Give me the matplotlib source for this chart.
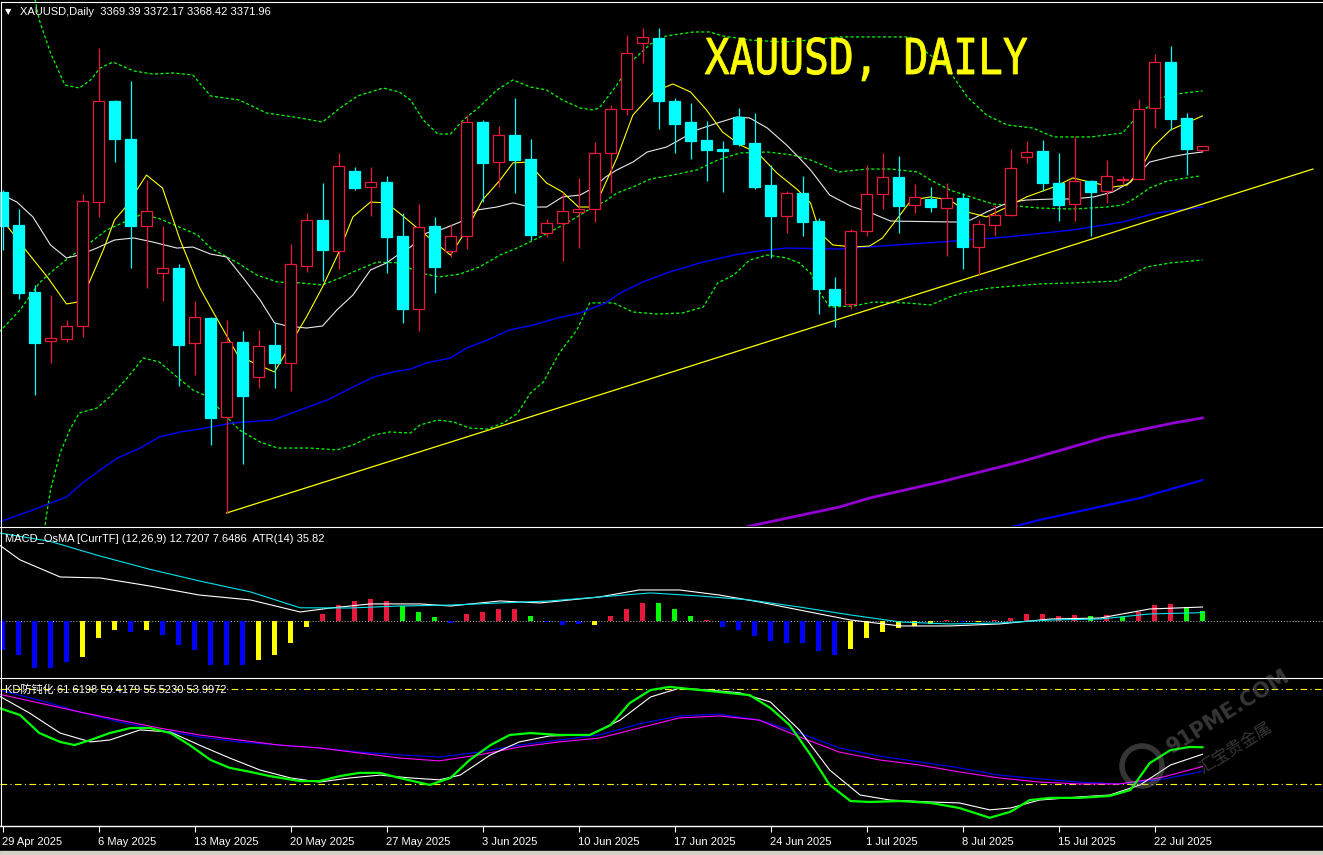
import numpy as np
import matplotlib.pyplot as plt
from matplotlib.patches import Rectangle, PathPatch, Circle
from matplotlib.lines import Line2D
from matplotlib.textpath import TextPath
from matplotlib.font_manager import FontProperties
from matplotlib.transforms import Affine2D, IdentityTransform

W, H, DPI = 1323, 855, 100

# ---- XAUUSD daily bars, 29 Apr 2025 -> 24 Jul 2025
opens = [3340.5, 3317.9, 3272.0, 3238.4, 3239.8, 3248.7, 3333.6, 3402.8, 3376.8, 3317.2,
         3285.0, 3288.4, 3237.1, 3254.2, 3186.4, 3237.7, 3213.8, 3235.7, 3223.4, 3289.8,
         3321.3, 3300.1, 3354.9, 3343.9, 3347.3, 3310.3, 3260.3, 3317.2, 3300.1, 3310.3,
         3388.4, 3361.0, 3379.5, 3363.1, 3312.4, 3319.3, 3326.8, 3328.8, 3367.2, 3397.3,
         3442.6, 3446.0, 3402.8, 3388.4, 3376.1, 3369.9, 3391.9, 3374.1, 3345.3, 3324.0,
         3339.8, 3320.6, 3274.0, 3263.8, 3313.8, 3339.1, 3350.8, 3331.6, 3335.7, 3329.5,
         3336.4, 3302.8, 3317.9, 3324.7, 3364.5, 3368.6, 3346.7, 3332.3, 3348.0, 3341.2,
         3348.7, 3349.4, 3398.0, 3429.5, 3391.2, 3369.39]
highs = [3341.9, 3328.8, 3276.8, 3269.9, 3252.8, 3339.1, 3439.1, 3403.5, 3416.5, 3348.7,
         3317.2, 3291.2, 3265.8, 3254.9, 3252.8, 3245.3, 3246.0, 3250.8, 3304.9, 3326.1,
         3346.7, 3367.2, 3357.6, 3357.6, 3351.4, 3326.1, 3332.3, 3323.4, 3317.9, 3393.2,
         3389.8, 3385.7, 3404.9, 3376.8, 3322.0, 3339.8, 3350.1, 3374.7, 3400.1, 3448.0,
         3452.8, 3452.8, 3404.9, 3401.5, 3389.1, 3375.4, 3398.0, 3394.6, 3359.0, 3341.2,
         3351.4, 3322.7, 3282.3, 3315.1, 3359.0, 3367.2, 3365.1, 3346.0, 3343.9, 3346.7,
         3339.8, 3321.3, 3331.6, 3369.9, 3375.4, 3376.1, 3367.2, 3378.9, 3348.5, 3362.4,
         3351.4, 3404.2, 3435.0, 3440.5, 3394.6, 3372.17]
lows = [3300.8, 3267.2, 3201.4, 3223.4, 3237.7, 3241.2, 3323.4, 3361.0, 3288.4, 3274.7,
        3265.8, 3207.6, 3215.1, 3167.2, 3120.6, 3154.2, 3206.2, 3206.2, 3204.2, 3285.7,
        3279.5, 3287.7, 3341.9, 3324.0, 3285.0, 3250.8, 3245.3, 3271.3, 3296.0, 3301.4,
        3333.6, 3343.9, 3339.8, 3307.6, 3309.7, 3293.2, 3302.1, 3319.9, 3339.8, 3393.2,
        3428.9, 3383.6, 3367.2, 3363.1, 3348.0, 3340.5, 3372.0, 3342.5, 3295.3, 3312.4,
        3310.3, 3256.9, 3248.0, 3260.3, 3310.3, 3328.8, 3312.4, 3326.1, 3326.8, 3296.6,
        3287.7, 3283.6, 3310.3, 3324.0, 3360.4, 3341.2, 3320.6, 3320.6, 3310.3, 3333.0,
        3345.3, 3348.7, 3384.3, 3383.0, 3352.1, 3368.42]
closes = [3317.2, 3271.3, 3237.1, 3240.5, 3248.7, 3334.3, 3402.8, 3376.8, 3317.2, 3327.5,
          3288.4, 3235.7, 3254.9, 3185.7, 3237.7, 3200.7, 3235.0, 3223.4, 3291.2, 3321.3,
          3300.8, 3358.3, 3343.2, 3347.3, 3309.7, 3260.3, 3316.5, 3289.1, 3310.3, 3388.4,
          3360.4, 3379.5, 3362.4, 3311.0, 3319.3, 3327.5, 3328.8, 3367.2, 3397.3, 3435.7,
          3446.7, 3402.8, 3387.1, 3375.4, 3369.3, 3368.6, 3373.4, 3343.9, 3324.0, 3339.8,
          3319.9, 3274.0, 3263.1, 3313.8, 3339.1, 3350.8, 3330.9, 3337.1, 3330.2, 3336.4,
          3302.8, 3318.6, 3324.7, 3356.9, 3367.9, 3346.7, 3331.6, 3348.0, 3340.5, 3351.4,
          3349.4, 3397.3, 3429.5, 3390.5, 3369.9, 3371.96]

# ---- overlay lines (bar position, price)
yellow_idx = [0, 1.3, 2.8, 4.0, 4.7, 5.3, 6.3, 7.0, 7.7, 9.0, 10.0, 11.1, 12.3, 13.2, 14.7, 15.7, 17.0,
              17.7, 18.4, 19.0, 20.0, 21.0, 21.9, 23.0, 24.0, 24.8, 26.3, 28.0, 29.0, 30.0, 31.1, 31.9,
              32.8, 34.0, 35.0, 36.0, 36.9, 37.3, 38.4, 39.4, 40.7, 41.9, 43.0, 44.0, 45.0, 46.1, 47.2,
              48.4, 49.7, 50.5, 51.1, 51.9, 53.2, 54.2, 55.0, 56.0, 56.8, 58.0, 59.2, 60.3, 61.5, 62.8,
              64.0, 65.7, 66.9, 68.2, 69.4, 70.3, 71.1, 71.9, 73.0, 74.0, 75.0]
yellow_val = [3321.3, 3302.8, 3282.3, 3263.8, 3265.1, 3275.4, 3300.8, 3321.3, 3330.2, 3352.1, 3343.2,
              3307.6, 3275.4, 3257.6, 3228.8, 3223.4, 3217.2, 3230.2, 3243.9, 3254.9, 3275.4, 3298.7,
              3323.4, 3333.6, 3333.0, 3326.1, 3312.4, 3297.3, 3314.5, 3335.0, 3348.7, 3360.4, 3361.0,
              3346.7, 3340.5, 3330.2, 3330.2, 3337.1, 3363.8, 3393.2, 3409.0, 3414.5, 3409.0, 3396.7,
              3381.6, 3372.7, 3367.2, 3353.5, 3341.9, 3333.0, 3312.4, 3304.2, 3302.8, 3303.5, 3309.0,
              3323.4, 3335.0, 3337.1, 3335.0, 3326.8, 3323.4, 3330.2, 3337.1, 3343.9, 3350.1, 3346.7,
              3343.9, 3345.3, 3355.6, 3371.3, 3383.0, 3387.8, 3392.6]

white_idx = [0.0, 0.9, 1.9, 3.0, 4.0, 4.8, 5.9, 7.0, 8.2, 9.4, 10.9, 11.9, 13.0, 14.0, 15.0, 16.1, 17.0,
             17.8, 19.0, 20.0, 20.9, 21.9, 23.0, 24.0, 24.7, 25.5, 26.5, 27.5, 28.6, 29.7, 30.9, 31.9,
             33.0, 34.0, 35.0, 36.1, 36.9, 37.7, 38.4, 39.4, 40.3, 41.5, 42.3, 43.4, 44.7, 45.9, 46.7,
             47.8, 49.0, 49.8, 50.5, 51.7, 53.0, 54.3, 55.5, 59.7, 60.5, 61.5, 62.8, 64.0, 65.7, 66.9,
             68.2, 69.4, 70.5, 71.7, 73.0, 74.0, 75.0]
white_val = [3338.4, 3333.6, 3323.4, 3304.2, 3295.3, 3297.3, 3302.1, 3307.6, 3309.0, 3306.2, 3302.1,
             3302.8, 3298.0, 3296.0, 3282.3, 3266.5, 3250.8, 3248.7, 3247.3, 3248.7, 3259.7, 3269.9,
             3287.1, 3291.9, 3297.3, 3302.8, 3312.4, 3315.1, 3319.9, 3328.2, 3330.2, 3333.0, 3330.2,
             3330.2, 3337.1, 3338.4, 3343.2, 3350.8, 3355.6, 3361.0, 3367.9, 3371.3, 3376.1, 3383.0,
             3387.8, 3391.9, 3391.2, 3384.3, 3372.7, 3363.8, 3355.6, 3338.4, 3330.9, 3326.1, 3320.6,
             3319.9, 3321.3, 3326.8, 3333.0, 3335.0, 3335.7, 3335.7, 3337.1, 3340.5, 3347.3, 3361.0,
             3364.5, 3366.5, 3367.9]

bb_up_idx = [2.0, 2.3, 3.0, 3.9, 4.8, 5.5, 6.1, 6.9, 8.2, 9.4, 10.7, 11.9, 13.0, 14.8, 16.5, 18.6, 20.0,
             21.1, 22.2, 23.8, 24.8, 25.5, 26.3, 27.2, 28.0, 28.8, 29.8, 30.9, 31.9, 33.0, 34.0, 35.0,
             36.1, 36.9, 37.3, 38.4, 39.4, 40.5, 41.5, 43.2, 44.2, 45.0, 46.7, 48.8, 50.5, 52.3, 56.7,
             57.8, 59.0, 60.3, 61.5, 62.8, 64.4, 65.7, 68.0, 70.0, 71.1, 72.3, 73.8, 75.0]
bb_up_val = [3474.0, 3458.3, 3435.7, 3413.8, 3411.7, 3417.2, 3425.4, 3429.5, 3423.4, 3421.3, 3422.0,
             3420.6, 3406.3, 3403.5, 3394.6, 3391.2, 3388.4, 3398.0, 3406.3, 3411.7, 3409.0, 3403.5,
             3389.8, 3380.2, 3380.2, 3389.8, 3398.7, 3410.4, 3417.2, 3412.4, 3410.4, 3403.5, 3398.0,
             3396.7, 3398.0, 3413.8, 3430.9, 3441.9, 3447.4, 3450.1, 3450.1, 3447.4, 3444.6, 3443.2,
             3444.6, 3446.7, 3446.7, 3435.7, 3426.1, 3405.6, 3393.2, 3386.4, 3384.3, 3378.2, 3378.2,
             3380.9, 3394.6, 3404.9, 3408.3, 3409.7]

bb_mid_idx = [-0.2, 1.1, 2.3, 3.2, 4.2, 5.3, 6.5, 7.5, 8.6, 9.7, 10.9, 12.2, 13.0, 14.7, 15.9, 17.2, 18.6,
              20.0, 21.1, 22.2, 23.4, 24.7, 26.1, 27.3, 28.6, 29.8, 31.1, 32.3, 33.6, 34.8, 35.9, 36.9,
              37.7, 38.4, 39.4, 40.5, 41.9, 43.4, 44.7, 46.1, 47.8, 49.4, 50.5, 52.3, 54.0, 55.5, 57.2,
              58.0, 59.2, 60.7, 61.9, 63.4, 64.8, 66.9, 69.0, 70.0, 70.7, 71.7, 72.8, 74.0, 74.8]
bb_mid_val = [3244.6, 3259.7, 3278.2, 3287.1, 3296.0, 3304.2, 3314.5, 3319.3, 3324.7, 3322.7, 3317.2,
              3311.0, 3302.1, 3291.9, 3283.6, 3278.8, 3278.2, 3276.8, 3281.6, 3287.1, 3292.5, 3292.0,
              3285.0, 3282.3, 3284.3, 3289.1, 3297.3, 3302.8, 3309.7, 3316.5, 3323.4, 3330.2, 3334.3,
              3339.8, 3343.9, 3349.4, 3352.1, 3355.6, 3362.4, 3367.2, 3367.9, 3365.8, 3362.4, 3354.2,
              3356.2, 3356.2, 3354.2, 3348.7, 3341.9, 3336.4, 3332.3, 3330.9, 3329.5, 3328.8, 3330.2,
              3331.6, 3335.7, 3343.2, 3348.0, 3350.1, 3351.4]

bb_low_idx = [2.6, 2.7, 3.0, 3.6, 4.2, 4.8, 5.9, 6.7, 7.8, 8.8, 9.8, 10.9, 11.9, 13.0, 13.6, 14.8, 16.1,
              17.2, 19.2, 20.9, 21.9, 23.2, 24.2, 25.5, 26.1, 27.2, 28.2, 29.2, 30.3, 31.3, 32.2, 33.0,
              33.8, 34.8, 35.9, 36.7, 38.2, 39.4, 40.9, 42.5, 43.8, 44.7, 45.7, 46.7, 47.8, 49.0, 49.8,
              50.5, 51.1, 51.7, 53.2, 54.4, 56.5, 58.0, 59.2, 60.0, 61.7, 63.2, 64.8, 66.9, 69.7, 70.5,
              71.5, 73.0, 75.0]
bb_low_val = [3105.0, 3115.8, 3136.4, 3161.7, 3177.5, 3189.1, 3192.5, 3200.1, 3213.1, 3226.8, 3224.0,
              3213.8, 3204.9, 3199.4, 3191.2, 3177.5, 3169.2, 3165.1, 3165.1, 3163.8, 3167.2, 3174.0,
              3176.1, 3175.4, 3180.9, 3184.3, 3182.9, 3178.8, 3178.1, 3182.3, 3189.1, 3202.8, 3210.3,
              3230.2, 3246.0, 3264.5, 3264.5, 3258.3, 3256.9, 3257.6, 3261.7, 3278.2, 3283.6, 3293.9,
              3297.3, 3295.3, 3291.9, 3285.0, 3271.3, 3261.7, 3262.4, 3265.1, 3264.5, 3263.1, 3268.6,
              3271.3, 3274.7, 3276.1, 3277.5, 3278.2, 3279.5, 3283.6, 3289.1, 3291.9, 3293.9]

ma_blue_idx = [-0.2, 0.5, 1.9, 4.0, 5.0, 6.1, 7.2, 8.6, 9.8, 11.1, 12.3, 14.4, 16.9, 18.6, 20.3, 21.9, 23.2,
               24.4, 25.5, 26.5, 28.0, 29.0, 30.3, 31.7, 33.2, 34.7, 36.1, 37.7, 38.6, 40.0, 41.7, 43.6,
               45.7, 47.3, 49.0, 52.3, 54.0, 58.6, 62.8, 66.9, 70.0, 72.1, 75.0]
ma_blue_val = [3114.5, 3117.2, 3122.7, 3131.6, 3141.2, 3150.1, 3158.3, 3165.1, 3172.7, 3176.1, 3178.1,
               3182.3, 3184.3, 3191.2, 3198.0, 3206.9, 3213.8, 3217.2, 3219.2, 3223.4, 3226.8, 3233.6,
               3239.1, 3246.0, 3249.4, 3254.2, 3257.6, 3264.5, 3271.3, 3278.8, 3285.7, 3291.9, 3297.3,
               3300.1, 3302.1, 3301.4, 3302.8, 3306.2, 3309.7, 3314.5, 3319.9, 3326.1, 3330.2]

ma_purple_idx = [45.0, 47.0, 48.5, 52.3, 54.2, 58.6, 63.8, 69.0, 73.2, 75.0]
ma_purple_val = [3106.9, 3112.4, 3115.8, 3124.7, 3130.9, 3141.8, 3156.2, 3172.7, 3182.3, 3185.7]
ma_long_idx = [62.3, 63.6, 64.8, 71.1, 75.0]
ma_long_val = [3109.0, 3112.4, 3115.8, 3130.9, 3143.2]

trend_idx = [14.0, 81.9]
trend_val = [3120.6, 3356.2]

# ---- MACD_OsMA panel
hist_vals = [-26.4, -30.9, -42.7, -42.7, -37.3, -32.7, -15.5, -8.2, -10.0, -8.2,
             -12.7, -21.8, -26.4, -40.0, -40.0, -40.0, -35.5, -30.9, -20.0, -5.5,
             6.4, 14.5, 18.2, 20.0, 18.2, 13.6, 8.2, 3.6, -1.8, 6.4,
             8.2, 10.9, 10.9, 4.5, -0.9, -3.6, -2.7, -3.6, 4.5, 10.9,
             16.4, 16.4, 10.9, 4.5, 0.5, -5.5, -8.2, -13.6, -18.2, -20.0,
             -20.0, -27.3, -30.9, -25.5, -15.5, -10.0, -6.4, -4.5, -2.7, 0.9,
             -0.9, -0.9, 0.5, 2.7, 6.4, 6.4, 4.5, 5.5, 4.5, 5.5,
             3.6, 8.2, 14.5, 15.5, 12.7, 9.1]
hist_codes = list("bbbbbyyybybbbbbbyyyyrrrrrgggbrrrrgbbbyrrrgggrbbbbbbbbyyyyyyrbyrrrrrrgrgrrrgg")
macd_idx = [-0.2, 1.1, 3.6, 6.1, 9.2, 12.3, 15.5, 18.6, 20.5, 23.0, 26.1, 28.0, 31.1, 33.6, 37.3, 39.8,
            42.3, 44.8, 47.3, 49.8, 53.0, 56.1, 59.2, 62.3, 65.5, 68.6, 71.7, 75.0]
macd_val = [69.1, 55.5, 40.0, 39.1, 31.8, 23.6, 19.1, 8.2, 11.8, 15.5, 15.5, 13.6, 18.2, 16.4, 21.8, 28.2,
            28.2, 23.6, 17.3, 10.0, 0.9, -4.5, -4.5, -2.7, 1.8, 2.7, 10.9, 12.7]
sig_idx = [-0.2, 3.0, 6.1, 9.2, 12.3, 15.5, 18.6, 21.7, 24.8, 28.0, 31.1, 34.2, 37.3, 40.5, 43.6, 46.7,
           49.8, 53.0, 56.1, 59.2, 62.3, 65.5, 68.6, 71.7, 75.0]
sig_val = [80.0, 72.3, 59.0, 47.0, 36.4, 26.4, 12.0, 11.8, 13.6, 14.5, 16.4, 18.2, 21.8, 25.5, 22.7, 19.1,
           12.7, 5.5, -0.9, -2.7, -1.8, 0.9, 1.8, 6.4, 7.6]

# ---- KD panel
kd_green_idx = [-0.2, 1.1, 2.3, 3.6, 4.5, 5.5, 6.7, 8.0, 9.2, 10.5, 11.7, 13.0, 14.2, 15.5, 16.7, 18.6,
                19.8, 21.1, 22.3, 23.6, 24.8, 26.7, 28.0, 29.2, 30.5, 31.7, 33.0, 34.8, 36.7, 38.0, 39.2,
                40.5, 41.7, 43.0, 44.8, 46.7, 48.0, 49.2, 50.5, 51.7, 53.0, 54.2, 56.1, 58.0, 59.8, 61.7,
                63.0, 64.2, 65.5, 67.3, 69.2, 70.5, 71.7, 73.0, 74.2, 75.0]
kd_green_val = [74.0, 71.8, 66.1, 63.3, 62.3, 63.9, 66.1, 67.7, 67.7, 66.1, 62.3, 57.6, 55.1, 53.8, 52.5,
                50.9, 50.9, 52.5, 53.5, 53.5, 51.9, 49.7, 51.9, 57.6, 62.3, 65.5, 66.1, 65.5, 65.5, 68.6,
                75.6, 79.7, 80.7, 80.0, 79.1, 78.1, 74.0, 68.6, 59.2, 49.7, 44.6, 44.3, 44.6, 44.0, 42.4,
                39.3, 41.2, 44.9, 45.6, 45.6, 46.2, 48.1, 56.6, 60.7, 61.7, 61.6]
kd_white_idx = [-0.2, 1.7, 3.6, 5.5, 6.7, 8.6, 10.5, 12.3, 14.2, 16.1, 18.0, 19.8, 21.7, 23.6, 25.5, 27.3,
                28.6, 30.5, 32.3, 34.2, 36.7, 38.6, 40.5, 42.3, 44.2, 46.1, 48.0, 49.8, 51.7, 53.6, 55.5,
                58.0, 59.8, 61.7, 63.0, 64.8, 67.3, 69.2, 71.1, 73.0, 75.0]
kd_white_val = [77.8, 72.4, 66.1, 63.3, 63.9, 67.1, 66.4, 62.3, 58.2, 54.4, 51.9, 50.6, 51.9, 52.8, 51.9,
                51.3, 52.8, 59.2, 63.3, 65.2, 65.5, 70.2, 77.5, 80.3, 79.7, 78.8, 75.9, 67.1, 54.4, 46.5,
                44.9, 44.3, 44.0, 41.8, 42.4, 44.9, 45.9, 46.5, 49.7, 56.0, 59.4]
kd_idx = [-0.2, 2.3, 4.8, 7.3, 9.8, 12.3, 14.8, 17.3, 19.8, 22.3, 24.8, 27.3, 29.8, 32.3, 34.8, 37.3,
          39.8, 42.3, 44.8, 47.3, 49.8, 52.3, 54.8, 57.3, 59.8, 62.3, 64.8, 67.3, 69.8, 72.3, 75.0]
kd_magenta_val = [78.4, 75.6, 72.8, 70.2, 67.7, 65.5, 63.9, 62.3, 61.4, 59.8, 58.2, 57.3, 59.2, 61.7, 63.3,
                  64.5, 67.7, 70.9, 71.5, 70.2, 64.9, 60.1, 57.6, 56.0, 53.8, 51.9, 50.6, 50.0, 50.0,
                  51.9, 55.5]
kd_blue_val = [79.7, 76.5, 72.8, 69.6, 67.1, 64.9, 63.3, 62.3, 61.4, 60.1, 59.2, 58.5, 60.1, 62.3, 63.9,
               65.5, 69.0, 71.5, 72.1, 70.2, 66.1, 61.4, 58.8, 57.0, 55.1, 52.8, 51.6, 50.6, 50.0, 51.3,
               54.0]
kd_levels = [80, 50]

date_labels = ['29 Apr 2025', '6 May 2025', '13 May 2025', '20 May 2025', '27 May 2025', '3 Jun 2025',
               '10 Jun 2025', '17 Jun 2025', '24 Jun 2025', '1 Jul 2025', '8 Jul 2025', '15 Jul 2025',
               '22 Jul 2025']

CYAN = '#00ffff'
RED = '#e8173c'
UI_FONT = ['Liberation Sans', 'Noto Sans CJK SC', 'DejaVu Sans']

fig = plt.figure(figsize=(W / DPI, H / DPI), dpi=DPI, facecolor='black')


def panel(top, bottom):
    ax = fig.add_axes([0, 1 - bottom / H, 1, (bottom - top) / H])
    ax.set_facecolor('black')
    ax.set_xlim(-2.5 / 16, (W - 2.5) / 16)
    for s in ax.spines.values():
        s.set_visible(False)
    ax.set_xticks([])
    ax.set_yticks([])
    return ax


def hline(y, x0=0, x1=W, **kw):
    fig.add_artist(Line2D([x0 / W, x1 / W], [1 - y / H, 1 - y / H], transform=fig.transFigure, **kw))


# ---------------- main price panel
ax = panel(0, 526)
ax.set_ylim(3111.7, 3472.0)
dash = (0, (2.5, 1.8))
ax.plot(bb_up_idx, bb_up_val, color='#00ff00', lw=0.9, ls=dash, zorder=2)
ax.plot(bb_mid_idx, bb_mid_val, color='#00ff00', lw=0.9, ls=dash, zorder=2)
ax.plot(bb_low_idx, bb_low_val, color='#00ff00', lw=0.9, ls=dash, zorder=2)
ax.plot(ma_blue_idx, ma_blue_val, color='#0000ff', lw=1.0, zorder=2)
ax.plot(ma_purple_idx, ma_purple_val, color='#9400d3', lw=2.0, zorder=2)
ax.plot(ma_long_idx, ma_long_val, color='#0000ff', lw=1.5, zorder=2)
ax.plot(trend_idx, trend_val, color='#ffff00', lw=0.9, zorder=2)
ax.plot(white_idx, white_val, color='#e8e8e8', lw=0.8, zorder=2)
ax.plot(yellow_idx, yellow_val, color='#ffff00', lw=0.8, zorder=2)

for i in range(len(opens)):
    o, h, l, c = opens[i], highs[i], lows[i], closes[i]
    up = c > o
    col = RED if up else CYAN
    ax.plot([i, i], [l, h], color=col, lw=0.9, zorder=3, solid_capstyle='butt')
    lo, hi = min(o, c), max(o, c)
    hi = max(hi, lo + 0.7)
    ax.add_patch(Rectangle((i - 0.33, lo), 0.66, hi - lo, facecolor='black' if up else CYAN,
                           edgecolor=col, lw=0.9, zorder=4))

# ---------------- MACD panel
axm = panel(528, 677)
axm.set_ylim(-50.9, 84.5)
hist_colors = {'b': '#0000ff', 'y': '#ffff00', 'r': RED, 'g': '#00ff00'}
axm.bar(np.arange(len(hist_vals)), hist_vals, width=0.36,
        color=[hist_colors[k] for k in hist_codes], zorder=2)
axm.axhline(0, color='#bdbdbd', lw=0.7, ls=(0, (1, 2)), zorder=1)
axm.plot(macd_idx, macd_val, color='#ffffff', lw=0.8, zorder=3)
axm.plot(sig_idx, sig_val, color='#00e5ee', lw=0.8, zorder=3)

# ---------------- KD panel
axk = panel(679, 826)
axk.set_ylim(36.7, 83.2)
for lv in kd_levels:
    axk.axhline(lv, color='#ffff00', lw=0.8, ls=(0, (6, 3, 1, 3)), zorder=1)
axk.plot(kd_idx, kd_blue_val, color='#0000ff', lw=0.8, zorder=2)
axk.plot(kd_idx, kd_magenta_val, color='#ff00ff', lw=0.8, zorder=2)
axk.plot(kd_white_idx, kd_white_val, color='#ffffff', lw=0.8, zorder=3)
axk.plot(kd_green_idx, kd_green_val, color='#00ff00', lw=1.6, zorder=4)

axk.spines['bottom'].set_visible(True)
axk.spines['bottom'].set_color('white')
axk.spines['bottom'].set_linewidth(1.0)
axk.set_xticks(np.arange(len(date_labels)) * 6)
axk.set_xticklabels(date_labels, ha='left', family=UI_FONT)
axk.tick_params(axis='x', colors='white', length=4, width=0.8, pad=4, labelsize=8)

# ---------------- frame lines
hline(2, 1, W, color='white', lw=0.8)
hline(526.5, 0, W, color='white', lw=0.8)
hline(677.5, 0, W, color='white', lw=0.8)
fig.add_artist(Line2D([1.2 / W, 1.2 / W], [1 - 826 / H, 1 - 2 / H], transform=fig.transFigure,
                      color='white', lw=0.8))
fig.add_artist(Rectangle((0, 0), 1, 4 / H, transform=fig.transFigure, color='#d4d0c8'))

# ---------------- texts
fig.text(5 / W, 1 - 12 / H, '\u25bc', color='white', fontsize=6, va='center', family=['DejaVu Sans'])
fig.text(20 / W, 1 - 12 / H, 'XAUUSD,Daily  3369.39 3372.17 3368.42 3371.96', color='white',
         fontsize=8, va='center', family=UI_FONT)
fig.text(5 / W, 1 - 539 / H, 'MACD_OsMA [CurrTF] (12,26,9) 12.7207 7.6486  ATR(14) 35.82', color='white',
         fontsize=8, va='center', family=UI_FONT)
fig.text(5 / W, 1 - 690 / H, 'KD防钝化 61.6198 59.4179 55.5230 53.9972', color='white',
         fontsize=8, va='center', family=UI_FONT)

# big yellow title (monospaced look), squeezed to the width it has on the chart
title = 'XAUUSD, DAILY'
tp = TextPath((0, 0), title, size=1, prop=FontProperties(family='DejaVu Sans Mono'))
ext = tp.get_extents()
tr = Affine2D().translate(-ext.x0, 0).scale(322 / ext.width, 36 / 0.729).translate(705, H - 74)
fig.add_artist(PathPatch(tp, transform=tr + IdentityTransform(), facecolor='#ffff00',
                         edgecolor='#ffff00', lw=0.6))

# watermark
fig.text(1228 / W, 1 - 712 / H, '91PME.COM', color='#9a9a9a', alpha=0.35, fontsize=15,
         rotation=32, ha='center', va='center', family=['DejaVu Sans'], fontweight='bold')
fig.text(1236 / W, 1 - 748 / H, '汇宝贵金属', color='#9a9a9a', alpha=0.35, fontsize=12,
         rotation=32, ha='center', va='center', family=['Noto Sans CJK SC'])
fig.add_artist(Circle((1142, H - 766), 20, transform=IdentityTransform(), fill=False,
                      edgecolor='#9a9a9a', alpha=0.35, lw=4))

fig.savefig('out.png', dpi=DPI, facecolor='black')
